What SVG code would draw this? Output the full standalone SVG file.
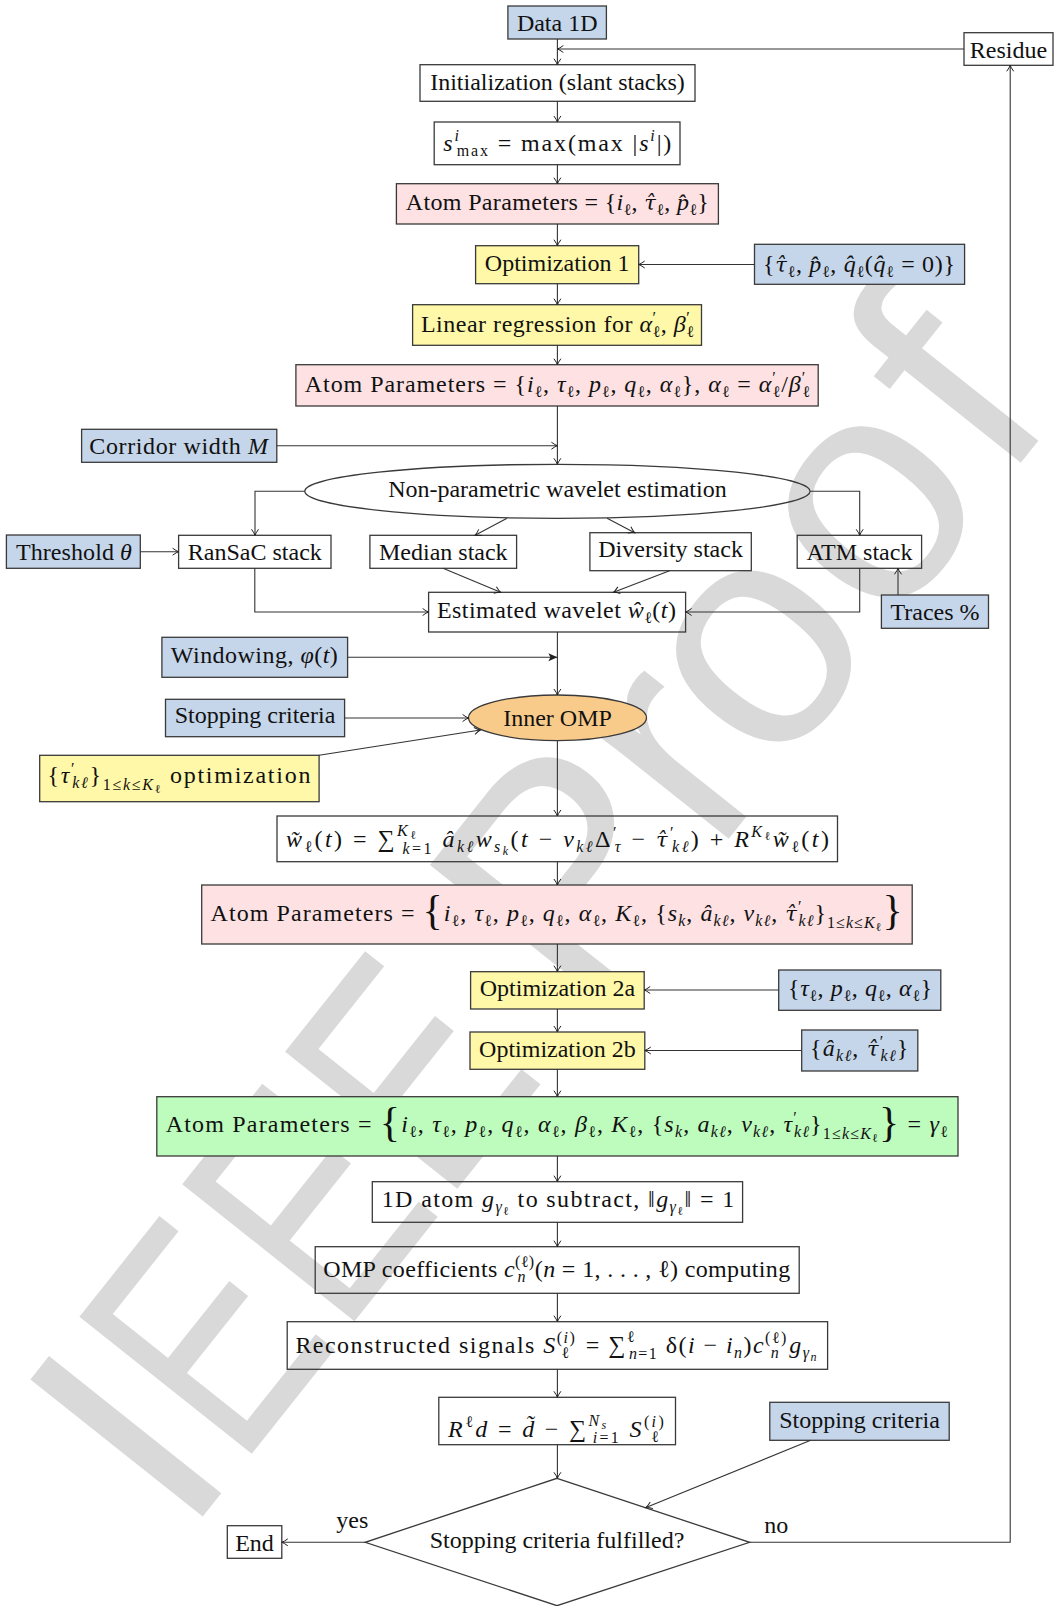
<svg xmlns="http://www.w3.org/2000/svg" width="1055" height="1606" viewBox="0 0 1055 1606">
<style>
.bx{stroke:#3a3a3a;stroke-width:1.3}
.w{fill:none}.bl{fill:#c5d5ea}.pk{fill:#fde1e3}.yl{fill:#fff8a8}.gr{fill:#bdfcbd}.or{fill:#f9cb8b}
text{font-family:"Liberation Serif","Times New Roman",serif;font-size:24px;fill:#111}
.c{text-anchor:middle}
.m{font-style:italic}
.h{font-family:"DejaVu Serif",serif;font-style:italic;font-size:21px}
.sb{font-size:16px}
.ss{font-size:12px}
.bg{font-size:42px}
.wm{font-family:"Liberation Sans",Arial,sans-serif;font-size:320px;fill:#d9d9d9}
.ln{fill:none;stroke:#333;stroke-width:1.1}
</style>
<defs>
<marker id="a" viewBox="-8 -5 10 10" markerWidth="10" markerHeight="10" refX="0" refY="0" orient="auto" markerUnits="userSpaceOnUse"><path d="M-6,-3.5 Q-2,-0.6 0,0 Q-2,0.6 -6,3.5" fill="none" stroke="#222" stroke-width="1"/></marker>
<marker id="b" viewBox="-10 -5 12 10" markerWidth="12" markerHeight="10" refX="0" refY="0" orient="auto" markerUnits="userSpaceOnUse"><path d="M-9,-4 L0,0 L-9,4 L-7,0 Z" fill="#222"/></marker>
</defs>
<rect width="1055" height="1606" fill="#fff"/>
<g id="watermark" transform="rotate(-51.5)">
<text class="wm" x="-1090.2" y="1102.7">I</text>
<text class="wm" transform="translate(-1001.3,1102) scale(0.77,1)">E</text>
<text class="wm" transform="translate(-833.6,1100) scale(0.77,1)">E</text>
<text class="wm" transform="translate(-665.9,1098) scale(0.77,1)">E</text>
<text class="wm" x="-435.5" y="1095">P</text>
<text class="wm" x="-225" y="1092.5">r</text>
<text class="wm" x="-127.4" y="1091">o</text>
<text class="wm" x="55.2" y="1089">o</text>
<text class="wm" x="245" y="1087">f</text>
</g>
<g id="data1d"><rect class="bx bl" x="507.9" y="6" width="98.5" height="33"/><text class="c" x="557.2" y="31">Data 1D</text></g>
<g id="residue"><rect class="bx w" x="964" y="32.7" width="89" height="32.6"/><text class="c" x="1008.5" y="57.5">Residue</text></g>
<g id="init"><rect class="bx w" x="420" y="64.7" width="275" height="36.6"/><text class="c" x="557.5" y="89.5">Initialization (slant stacks)</text></g>
<g id="smax"><rect class="bx w" x="434.2" y="122" width="245.8" height="42.7"/><text x="443.3" y="151" textLength="228" lengthAdjust="spacing"><tspan class="m">s</tspan><tspan class="sb m" dy="-10">i</tspan><tspan class="sb" dx="-4" dy="15">max</tspan><tspan dy="-5"> = max(max |</tspan><tspan class="m">s</tspan><tspan class="sb m" dy="-10">i</tspan><tspan dy="10">|)</tspan></text></g>
<g id="atom1"><rect class="bx pk" x="396.4" y="183.7" width="322" height="40.3"/><text x="405.8" y="210" textLength="303" lengthAdjust="spacing">Atom Parameters = {<tspan class="m">i</tspan><tspan class="sb" dy="5">ℓ</tspan><tspan dy="-5">, </tspan><tspan class="h">τ̂</tspan><tspan class="sb" dy="5">ℓ</tspan><tspan dy="-5">, </tspan><tspan class="m">p̂</tspan><tspan class="sb" dy="5">ℓ</tspan><tspan dy="-5">}</tspan></text></g>
<g id="opt1"><rect class="bx yl" x="475.6" y="245.7" width="163.1" height="38"/><text class="c" x="557.2" y="270.5">Optimization 1</text></g>
<g id="params1"><rect class="bx bl" x="754.5" y="244.3" width="210.1" height="40"/><text x="763" y="272" textLength="192" lengthAdjust="spacing">{<tspan class="h">τ̂</tspan><tspan class="sb" dy="5">ℓ</tspan><tspan dy="-5">, </tspan><tspan class="m">p̂</tspan><tspan class="sb" dy="5">ℓ</tspan><tspan dy="-5">, </tspan><tspan class="m">q̂</tspan><tspan class="sb" dy="5">ℓ</tspan><tspan dy="-5">(</tspan><tspan class="m">q̂</tspan><tspan class="sb" dy="5">ℓ</tspan><tspan dy="-5"> = 0)}</tspan></text></g>
<g id="linreg"><rect class="bx yl" x="412.6" y="304.7" width="288.9" height="40.6"/><text x="420.9" y="332" textLength="273" lengthAdjust="spacing">Linear regression for <tspan class="m">α</tspan><tspan class="sb" dy="-9">′</tspan><tspan class="sb" dx="-4" dy="14">ℓ</tspan><tspan dy="-5">, </tspan><tspan class="m">β</tspan><tspan class="sb" dy="-9">′</tspan><tspan class="sb" dx="-4" dy="14">ℓ</tspan></text></g>
<g id="atom2"><rect class="bx pk" x="295.9" y="364.7" width="522.3" height="41.3"/><text x="304.8" y="392" textLength="505" lengthAdjust="spacing">Atom Parameters = {<tspan class="m">i</tspan><tspan class="sb" dy="5">ℓ</tspan><tspan dy="-5">, </tspan><tspan class="m">τ</tspan><tspan class="sb" dy="5">ℓ</tspan><tspan dy="-5">, </tspan><tspan class="m">p</tspan><tspan class="sb" dy="5">ℓ</tspan><tspan dy="-5">, </tspan><tspan class="m">q</tspan><tspan class="sb" dy="5">ℓ</tspan><tspan dy="-5">, </tspan><tspan class="m">α</tspan><tspan class="sb" dy="5">ℓ</tspan><tspan dy="-5">}, </tspan><tspan class="m">α</tspan><tspan class="sb" dy="5">ℓ</tspan><tspan dy="-5"> = </tspan><tspan class="m">α</tspan><tspan class="sb" dy="-9">′</tspan><tspan class="sb" dx="-4" dy="14">ℓ</tspan><tspan dy="-5">/</tspan><tspan class="m">β</tspan><tspan class="sb" dy="-9">′</tspan><tspan class="sb" dx="-4" dy="14">ℓ</tspan></text></g>
<g id="corridor"><rect class="bx bl" x="81.6" y="429.3" width="195.2" height="33"/><text x="89.3" y="453.5" textLength="178.6" lengthAdjust="spacing">Corridor width <tspan class="m">M</tspan></text></g>
<g id="nonparam"><ellipse class="bx w" cx="557.4" cy="491.3" rx="252.6" ry="27"/><text class="c" x="557.4" y="497">Non-parametric wavelet estimation</text></g>
<g id="threshold"><rect class="bx bl" x="6.4" y="535" width="133.9" height="33.3"/><text x="15.9" y="559.5" textLength="116" lengthAdjust="spacing">Threshold <tspan class="m">θ</tspan></text></g>
<g id="ransac"><rect class="bx w" x="178.6" y="535.3" width="152.4" height="33"/><text class="c" x="254.8" y="559.5">RanSaC stack</text></g>
<g id="median"><rect class="bx w" x="369.9" y="535.3" width="146.7" height="33"/><text class="c" x="443.3" y="559.5">Median stack</text></g>
<g id="diversity"><rect class="bx w" x="589.9" y="532.7" width="161.4" height="38"/><text class="c" x="670.6" y="557">Diversity stack</text></g>
<g id="atm"><rect class="bx w" x="797.2" y="535.3" width="124.4" height="33"/><text class="c" x="859.4" y="559.5">ATM stack</text></g>
<g id="estimated"><rect class="bx w" x="428.6" y="592.3" width="257" height="39.7"/><text x="436.9" y="618.3" textLength="239" lengthAdjust="spacing">Estimated wavelet <tspan class="m">ŵ</tspan><tspan class="sb" dy="5">ℓ</tspan><tspan dy="-5">(</tspan><tspan class="m">t</tspan>)</text></g>
<g id="traces"><rect class="bx bl" x="881.4" y="595" width="107.1" height="33.3"/><text class="c" x="935" y="619.5">Traces %</text></g>
<g id="windowing"><rect class="bx bl" x="161.9" y="637.3" width="185.7" height="40"/><text x="170.8" y="663.3" textLength="167" lengthAdjust="spacing">Windowing, <tspan class="m">φ</tspan>(<tspan class="m">t</tspan>)</text></g>
<g id="stopping1"><rect class="bx bl" x="165.5" y="699.3" width="179.1" height="37.4"/><text class="c" x="255" y="722.5">Stopping criteria</text></g>
<g id="inneromp"><ellipse class="bx or" cx="557.5" cy="717.8" rx="89" ry="22.8"/><text class="c" x="557.5" y="725.5">Inner OMP</text></g>
<g id="tauopt"><rect class="bx yl" x="39.7" y="755.3" width="279.4" height="46.4"/><text x="47.4" y="783" textLength="263" lengthAdjust="spacing">{<tspan class="m">τ</tspan><tspan class="sb" dy="-9">′</tspan><tspan class="sb m" dx="-4" dy="14">kℓ</tspan><tspan dy="-5">}</tspan><tspan class="sb" dy="7">1≤</tspan><tspan class="sb m">k</tspan><tspan class="sb">≤</tspan><tspan class="sb m">K</tspan><tspan class="ss" dy="3">ℓ</tspan><tspan dy="-10"> optimization</tspan></text></g>
<g id="formula"><rect class="bx w" x="277" y="816" width="560.5" height="45.7"/><text x="285.9" y="847" textLength="543" lengthAdjust="spacing"><tspan class="m">w̃</tspan><tspan class="sb" dy="5">ℓ</tspan><tspan dy="-5">(</tspan><tspan class="m">t</tspan>) = ∑<tspan class="sb m" dy="-11">K</tspan><tspan class="ss" dy="3">ℓ</tspan><tspan class="sb m" dx="-16" dy="15">k</tspan><tspan class="sb">=1</tspan><tspan dy="-7"> </tspan><tspan class="m">â</tspan><tspan class="sb m" dy="5">kℓ</tspan><tspan class="m" dy="-5">w</tspan><tspan class="sb m" dy="5">s</tspan><tspan class="ss m" dy="3">k</tspan><tspan dy="-8">(</tspan><tspan class="m">t</tspan> − <tspan class="m">ν</tspan><tspan class="sb m" dy="5">kℓ</tspan><tspan dy="-5">Δ</tspan><tspan class="sb" dy="-9">′</tspan><tspan class="sb m" dx="-4" dy="14">τ</tspan><tspan dy="-5"> − </tspan><tspan class="h">τ̂</tspan><tspan class="sb" dy="-9">′</tspan><tspan class="sb m" dx="-4" dy="14">kℓ</tspan><tspan dy="-5">) + </tspan><tspan class="m">R</tspan><tspan class="sb m" dy="-10">K</tspan><tspan class="ss" dy="3">ℓ</tspan><tspan class="m" dy="7">w̃</tspan><tspan class="sb" dy="5">ℓ</tspan><tspan dy="-5">(</tspan><tspan class="m">t</tspan>)</text></g>
<g id="atom3"><rect class="bx pk" x="201.7" y="885" width="710.5" height="59"/><text x="210.6" y="921" textLength="692" lengthAdjust="spacing">Atom Parameters = <tspan class="bg" dy="3">{</tspan><tspan class="m" dy="-3">i</tspan><tspan class="sb" dy="5">ℓ</tspan><tspan dy="-5">, </tspan><tspan class="m">τ</tspan><tspan class="sb" dy="5">ℓ</tspan><tspan dy="-5">, </tspan><tspan class="m">p</tspan><tspan class="sb" dy="5">ℓ</tspan><tspan dy="-5">, </tspan><tspan class="m">q</tspan><tspan class="sb" dy="5">ℓ</tspan><tspan dy="-5">, </tspan><tspan class="m">α</tspan><tspan class="sb" dy="5">ℓ</tspan><tspan dy="-5">, </tspan><tspan class="m">K</tspan><tspan class="sb" dy="5">ℓ</tspan><tspan dy="-5">, {</tspan><tspan class="m">s</tspan><tspan class="sb m" dy="5">k</tspan><tspan dy="-5">, </tspan><tspan class="m">â</tspan><tspan class="sb m" dy="5">kℓ</tspan><tspan dy="-5">, </tspan><tspan class="m">ν</tspan><tspan class="sb m" dy="5">kℓ</tspan><tspan dy="-5">, </tspan><tspan class="h">τ̂</tspan><tspan class="sb" dy="-9">′</tspan><tspan class="sb m" dx="-4" dy="14">kℓ</tspan><tspan dy="-5">}</tspan><tspan class="sb" dy="7">1≤</tspan><tspan class="sb m">k</tspan><tspan class="sb">≤</tspan><tspan class="sb m">K</tspan><tspan class="ss" dy="3">ℓ</tspan><tspan class="bg" dy="-7">}</tspan></text></g>
<g id="opt2a"><rect class="bx yl" x="470.6" y="971.7" width="173.6" height="37.3"/><text class="c" x="557.4" y="996">Optimization 2a</text></g>
<g id="params2a"><rect class="bx bl" x="778.7" y="970" width="162.1" height="40.3"/><text x="788" y="996" textLength="144" lengthAdjust="spacing">{<tspan class="m">τ</tspan><tspan class="sb" dy="5">ℓ</tspan><tspan dy="-5">, </tspan><tspan class="m">p</tspan><tspan class="sb" dy="5">ℓ</tspan><tspan dy="-5">, </tspan><tspan class="m">q</tspan><tspan class="sb" dy="5">ℓ</tspan><tspan dy="-5">, </tspan><tspan class="m">α</tspan><tspan class="sb" dy="5">ℓ</tspan><tspan dy="-5">}</tspan></text></g>
<g id="opt2b"><rect class="bx yl" x="470" y="1032" width="174.8" height="37.3"/><text class="c" x="557.4" y="1056.5">Optimization 2b</text></g>
<g id="params2b"><rect class="bx bl" x="801.7" y="1030" width="116.1" height="41"/><text x="810" y="1056" textLength="98.4" lengthAdjust="spacing">{<tspan class="m">â</tspan><tspan class="sb m" dy="5">kℓ</tspan><tspan dy="-5">, </tspan><tspan class="h">τ̂</tspan><tspan class="sb" dy="-9">′</tspan><tspan class="sb m" dx="-4" dy="14">kℓ</tspan><tspan dy="-5">}</tspan></text></g>
<g id="atom4"><rect class="bx gr" x="156.8" y="1096.7" width="801.2" height="59.3"/><text x="165.7" y="1132" textLength="782" lengthAdjust="spacing">Atom Parameters = <tspan class="bg" dy="4">{</tspan><tspan class="m" dy="-4">i</tspan><tspan class="sb" dy="5">ℓ</tspan><tspan dy="-5">, </tspan><tspan class="m">τ</tspan><tspan class="sb" dy="5">ℓ</tspan><tspan dy="-5">, </tspan><tspan class="m">p</tspan><tspan class="sb" dy="5">ℓ</tspan><tspan dy="-5">, </tspan><tspan class="m">q</tspan><tspan class="sb" dy="5">ℓ</tspan><tspan dy="-5">, </tspan><tspan class="m">α</tspan><tspan class="sb" dy="5">ℓ</tspan><tspan dy="-5">, </tspan><tspan class="m">β</tspan><tspan class="sb" dy="5">ℓ</tspan><tspan dy="-5">, </tspan><tspan class="m">K</tspan><tspan class="sb" dy="5">ℓ</tspan><tspan dy="-5">, {</tspan><tspan class="m">s</tspan><tspan class="sb m" dy="5">k</tspan><tspan dy="-5">, </tspan><tspan class="m">a</tspan><tspan class="sb m" dy="5">kℓ</tspan><tspan dy="-5">, </tspan><tspan class="m">ν</tspan><tspan class="sb m" dy="5">kℓ</tspan><tspan dy="-5">, </tspan><tspan class="m">τ</tspan><tspan class="sb" dy="-9">′</tspan><tspan class="sb m" dx="-4" dy="14">kℓ</tspan><tspan dy="-5">}</tspan><tspan class="sb" dy="7">1≤</tspan><tspan class="sb m">k</tspan><tspan class="sb">≤</tspan><tspan class="sb m">K</tspan><tspan class="ss" dy="3">ℓ</tspan><tspan class="bg" dy="-6">}</tspan><tspan dy="-4"> = </tspan><tspan class="m">γ</tspan><tspan class="sb" dy="5">ℓ</tspan></text></g>
<g id="atom1d"><rect class="bx w" x="372.3" y="1181.7" width="370.3" height="40.6"/><text x="381.7" y="1207" textLength="352.5" lengthAdjust="spacing">1D atom <tspan class="m">g</tspan><tspan class="sb m" dy="5">γ</tspan><tspan class="ss" dy="3">ℓ</tspan><tspan dy="-8"> to subtract, ‖</tspan><tspan class="m">g</tspan><tspan class="sb m" dy="5">γ</tspan><tspan class="ss" dy="3">ℓ</tspan><tspan dy="-8">‖ = 1</tspan></text></g>
<g id="ompcoef"><rect class="bx w" x="315.2" y="1246.7" width="484" height="46.6"/><text x="323.2" y="1277" textLength="467" lengthAdjust="spacing">OMP coefficients <tspan class="m">c</tspan><tspan class="sb" dy="-10">(ℓ)</tspan><tspan class="sb m" dx="-17" dy="15">n</tspan><tspan dx="9" dy="-5">(</tspan><tspan class="m">n</tspan> = 1, . . . , ℓ) computing</text></g>
<g id="recon"><rect class="bx w" x="287.2" y="1321.7" width="540.4" height="47.6"/><text x="295.4" y="1353" textLength="521" lengthAdjust="spacing">Reconstructed signals <tspan class="m">S</tspan><tspan class="sb" dy="-10">(</tspan><tspan class="sb m">i</tspan><tspan class="sb">)</tspan><tspan class="sb" dx="-15" dy="15">ℓ</tspan><tspan dx="8" dy="-5"> = ∑</tspan><tspan class="sb" dy="-11">ℓ</tspan><tspan class="sb m" dx="-7" dy="17">n</tspan><tspan class="sb">=1</tspan><tspan dy="-6"> δ(</tspan><tspan class="m">i</tspan> − <tspan class="m">i</tspan><tspan class="sb m" dy="5">n</tspan><tspan dy="-5">)</tspan><tspan class="m">c</tspan><tspan class="sb" dy="-10">(ℓ)</tspan><tspan class="sb m" dx="-17" dy="15">n</tspan><tspan class="m" dx="9" dy="-5">g</tspan><tspan class="sb m" dy="5">γ</tspan><tspan class="ss m" dy="3">n</tspan></text></g>
<g id="residual"><rect class="bx w" x="438.8" y="1397.3" width="236.7" height="47.4"/><text x="448.1" y="1437" textLength="218" lengthAdjust="spacing"><tspan class="m">R</tspan><tspan class="sb" dy="-10">ℓ</tspan><tspan class="m" dy="10">d</tspan> = <tspan class="m">d̃</tspan> − ∑<tspan class="sb m" dy="-11">N</tspan><tspan class="ss m" dy="3">s</tspan><tspan class="sb m" dx="-16" dy="14">i</tspan><tspan class="sb">=1</tspan><tspan dy="-6"> </tspan><tspan class="m">S</tspan><tspan class="sb" dy="-10">(</tspan><tspan class="sb m">i</tspan><tspan class="sb">)</tspan><tspan class="sb" dx="-15" dy="15">ℓ</tspan></text></g>
<g id="stopping2"><rect class="bx bl" x="769.8" y="1402.3" width="179.4" height="38"/><text class="c" x="859.5" y="1427.5">Stopping criteria</text></g>
<g id="decision"><polygon class="bx w" points="557,1478.3 749.6,1542.3 557,1605.7 365.2,1542.3"/><text class="c" x="557" y="1548">Stopping criteria fulfilled?</text></g>
<g id="end"><rect class="bx w" x="227.3" y="1525.7" width="54.5" height="32.6"/><text class="c" x="254.5" y="1550.5">End</text></g>
<g id="connectors" class="ln">
<path d="M557.4,39 V64.7" marker-end="url(#a)"/>
<path d="M964,49 H557.4" marker-end="url(#a)"/>
<path d="M557.4,101.3 V122" marker-end="url(#a)"/>
<path d="M557.4,164.7 V183.7" marker-end="url(#a)"/>
<path d="M557.4,224 V245.7" marker-end="url(#a)"/>
<path d="M754.5,264.5 H638.7" marker-end="url(#a)"/>
<path d="M557.4,283.7 V304.7" marker-end="url(#a)"/>
<path d="M557.4,345.3 V364.7" marker-end="url(#a)"/>
<path d="M557.4,406 V464.3" marker-end="url(#a)"/>
<path d="M276.8,445.7 H557.4" marker-end="url(#a)"/>
<path d="M304.8,491.3 H255 V535.3" marker-end="url(#a)"/>
<path d="M810,491.3 H859.7 V535.3" marker-end="url(#a)"/>
<path d="M507,518.3 L475.1,535.3" marker-end="url(#a)"/>
<path d="M607.1,518.3 L634.6,532.7" marker-end="url(#a)"/>
<path d="M443,568.3 L500.6,592.3" marker-end="url(#a)"/>
<path d="M669.6,570.7 L613.5,592.3" marker-end="url(#a)"/>
<path d="M140.3,551.7 H178.6" marker-end="url(#a)"/>
<path d="M254.8,568.3 V612 H428.6" marker-end="url(#a)"/>
<path d="M859.7,568.3 V612 H685.6" marker-end="url(#a)"/>
<path d="M898,595 V568.3" marker-end="url(#a)"/>
<path d="M557.4,632 V695" marker-end="url(#a)"/>
<path d="M347.6,657.3 H557.4" marker-end="url(#b)"/>
<path d="M344.6,718 H468.6" marker-end="url(#a)"/>
<path d="M319.1,755.3 L480.4,730" marker-end="url(#a)"/>
<path d="M557.4,740.7 V816" marker-end="url(#a)"/>
<path d="M557.4,861.7 V885" marker-end="url(#a)"/>
<path d="M557.4,944 V971.7" marker-end="url(#a)"/>
<path d="M778.7,990 H644.2" marker-end="url(#a)"/>
<path d="M557.4,1009 V1032" marker-end="url(#a)"/>
<path d="M801.7,1050.5 H644.8" marker-end="url(#a)"/>
<path d="M557.4,1069.3 V1096.7" marker-end="url(#a)"/>
<path d="M557.4,1156 V1181.7" marker-end="url(#a)"/>
<path d="M557.4,1222.3 V1246.7" marker-end="url(#a)"/>
<path d="M557.4,1293.3 V1321.7" marker-end="url(#a)"/>
<path d="M557.4,1369.3 V1397.3" marker-end="url(#a)"/>
<path d="M557.4,1444.7 V1478.3" marker-end="url(#a)"/>
<path d="M810.7,1440.3 L646,1507.5" marker-end="url(#a)"/>
<path d="M365.2,1542.3 H281.8" marker-end="url(#a)"/>
<path d="M749.6,1542.3 H1010.2 V65.3" marker-end="url(#a)"/>
</g>
<g id="edge-labels">
<text x="336.3" y="1527.5">yes</text>
<text x="764.3" y="1533">no</text>
</g>
</svg>
